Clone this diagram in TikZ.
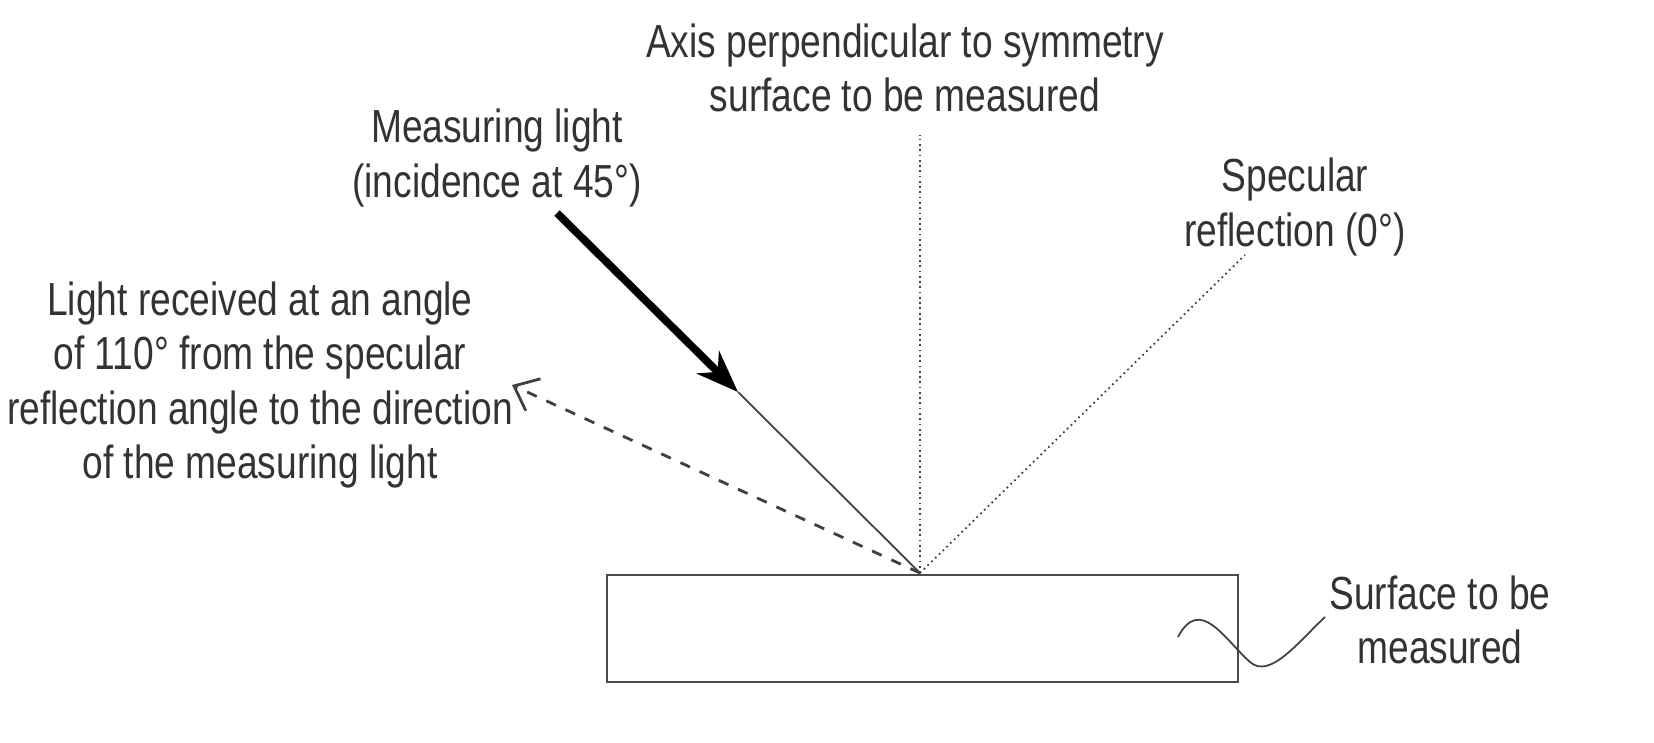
\documentclass[tikz,border=0pt]{standalone}
\usepackage{fontspec}
\setmainfont{Liberation Sans}[FakeStretch=0.8]
\usetikzlibrary{arrows.meta}
\begin{document}
\begin{tikzpicture}[x=0.01cm,y=-0.01cm,
  every node/.style={align=center,font=\fontsize{13.2}{15.5}\selectfont,text=black!80},
  ray/.style={draw=black!75,line width=0.5pt}]
\useasboundingbox (0,0) rectangle (1654,742);
% surface
\node[draw=black!70,minimum width=6.31cm,minimum height=1.07cm,inner sep=0pt] (surf) at (922.5,628.5) {};
\coordinate (hit) at (920,573);
\coordinate (axtop) at (920,135);
\coordinate (spec) at (1245,255);
\coordinate (src) at (557,213);
\coordinate (tip) at (738,392);
\coordinate (recv) at (512,385);
% rays
\draw[ray,densely dotted] (hit) -- (axtop);
\draw[ray,densely dotted] (hit) -- (spec);
\draw[ray] (tip) -- (hit);
\draw[line width=2.2pt,-{Stealth[length=12pt,width=9pt]}] (src) -- (tip);
\draw[ray,dashed,line width=0.8pt,-{Straight Barb[length=6pt,width=10pt]}] (hit) -- (recv);
% leader
\draw[ray] (1178,637) .. controls (1200,595) and (1225,640) .. (1250,662)
  .. controls (1270,680) and (1300,640) .. (1325,617);
% labels
\node (axlbl) at (905,68) {Axis perpendicular to symmetry\\surface to be measured};
\node (mlbl) at (497,158) {Measuring light\\(incidence at 45°)};
\node (slbl) at (1295,207) {Specular\\reflection (0°)};
\node (rlbl) at (260,385) {Light received at an angle\\of 110° from the specular\\reflection angle to the direction\\of the measuring light};
\node (flbl) at (1440,620) {Surface to be\\measured};
\end{tikzpicture}
\end{document}
